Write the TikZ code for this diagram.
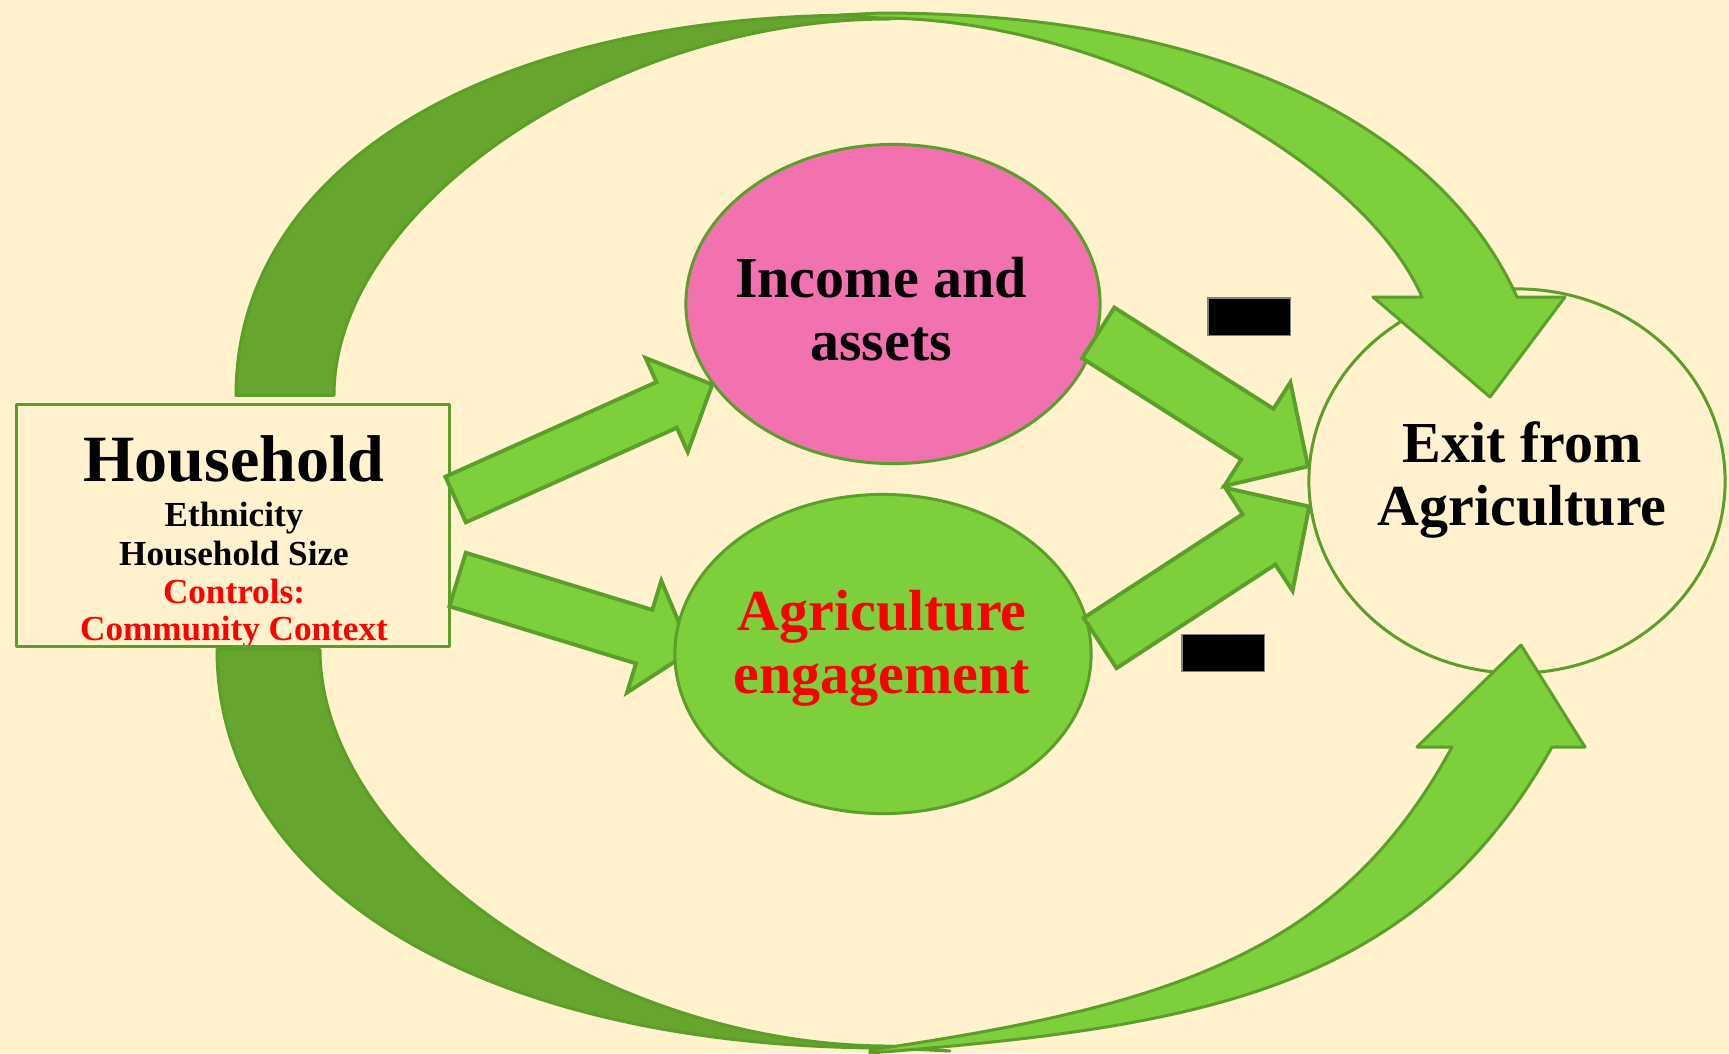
\documentclass[tikz,border=0pt]{standalone}
\usepackage{fontspec}
\setmainfont{Liberation Serif}
\usepackage{tikz}
\usepackage{xcolor}
\usetikzlibrary{shapes.geometric,calc}

\definecolor{paper}{HTML}{FFF2CC}
\definecolor{leaf}{HTML}{7DD03B}
\definecolor{moss}{HTML}{66A52E}
\definecolor{rim}{HTML}{5C9E2A}
\definecolor{rose}{HTML}{F272B0}

\tikzset{
  rim line/.style={draw=rim, line width=0.85pt, line join=round},
  fat arrow/.style={fill=leaf, draw=rim, line width=1.1pt, line join=miter},
  front band/.style={fill=leaf, rim line},
  back band/.style={fill=moss, rim line},
  factor/.style={ellipse, rim line, minimum width=4.14cm, minimum height=3.19cm, inner sep=0pt},
  bigtext/.style={font=\bfseries\fontsize{16.5}{17.9}\selectfont, align=center},
  hhline/.style={anchor=base, font=\bfseries\fontsize{10}{11}\selectfont},
  minus/.style={fill=black, draw=black!50, line width=0.3pt, minimum width=0.82cm, minimum height=0.37cm, inner sep=0pt},
}

% block arrow: #1 tail, #2 tip, #3 half shaft, #4 half head, #5 head length
\newcommand{\fatarrow}[5]{%
  \coordinate (fa-neck) at ($(#2)!#5!(#1)$);
  \filldraw[fat arrow] ($(#1)!#3!90:(#2)$) -- ($(fa-neck)!#3!90:(#2)$)
    -- ($(fa-neck)!#4!90:(#2)$) -- (#2) -- ($(fa-neck)!#4!-90:(#2)$)
    -- ($(fa-neck)!#3!-90:(#2)$) -- ($(#1)!#3!-90:(#2)$) -- cycle;}

\begin{document}
\begin{tikzpicture}[x=0.01cm, y=-0.01cm]
  \useasboundingbox (0,0) rectangle (1729,1053);
  \fill[paper] (0,0) rectangle (1729,1053);

  \node[factor, minimum width=4.16cm, minimum height=3.84cm] (exit) at (1517,481) {};

  % household box
  \node[anchor=base, font=\bfseries\fontsize{18.8}{20}\selectfont] (hh-title) at (234,481.7) {Household};
  \node[hhline] (hh-eth) at (234,526.7) {Ethnicity};
  \node[hhline] (hh-size) at (234,565) {Household Size};
  \node[hhline, text=red] (hh-ctrl) at (234,603.3) {Controls:};
  \node[hhline, text=red] (hh-comm) at (234,640) {Community Context};
  \node[rim line, minimum width=4.32cm, minimum height=2.41cm, inner sep=0pt] (hh) at (233,525.5) {};

  \coordinate (top-l) at ($(hh.north)+(3,-8)$);
  \coordinate (top-r) at ($(hh.north)+(101,-8)$);
  \coordinate (bot-l) at ($(hh.south)+(-16,2)$);
  \coordinate (bot-r) at ($(hh.south)+(87,2)$);
  \coordinate (th-bl) at ($(exit.center)+(-144,-184)$);
  \coordinate (th-nl) at ($(exit.center)+(-95,-184)$);
  \coordinate (th-nr) at ($(exit.center)+(0,-184)$);
  \coordinate (th-br) at ($(exit.center)+(48,-184)$);
  \coordinate (th-tip) at ($(exit.center)+(-27,-84)$);
  \coordinate (bh-bl) at ($(exit.center)+(-100,266)$);
  \coordinate (bh-nl) at ($(exit.center)+(-65,266)$);
  \coordinate (bh-nr) at ($(exit.center)+(35,266)$);
  \coordinate (bh-br) at ($(exit.center)+(68,266)$);
  \coordinate (bh-tip) at ($(exit.center)+(4,164)$);

  % upper curved arrow
  \filldraw[back band] (top-l) .. controls (236,168) and (487,15) .. (863,15) -- (930,14)
    -- (889,19) .. controls (611,19) and (334,208) .. (top-r) -- cycle;
  \filldraw[front band] (840,15) -- (880,13) .. controls (1230,13) and (1443,133) .. (th-nr)
    -- (th-br) -- (th-tip) -- (th-bl) -- (th-nl)
    .. controls (1362,159) and (1100,18) .. (880,18) -- cycle;

  % lower curved arrow
  \filldraw[back band] (bot-l) .. controls (217,888) and (486,1048) .. (889,1048) -- (950,1051)
    -- (889,1046) .. controls (604,1046) and (320,847) .. (bot-r) -- cycle;
  \filldraw[front band] (870,1050) .. controls (1180,1005) and (1342,949) .. (bh-nl)
    -- (bh-bl) -- (bh-tip) -- (bh-br) -- (bh-nr)
    .. controls (1415,991) and (1200,1027) .. (870,1053) -- cycle;

  \node[factor, fill=rose] (income) at (893,304) {};

  \coordinate (a1-tail) at ($(hh.east)+(5,-26)$);
  \coordinate (a2-tail) at ($(hh.east)+(7,54)$);
  \coordinate (agri-pos) at (883,654);
  \coordinate (a2-tip) at ($(agri-pos)+(-192,-3)$);

  \fatarrow{a1-tail}{income.204}{0.25cm}{0.515cm}{0.5cm}
  \fatarrow{income.352}{exit.176}{0.30cm}{0.615cm}{0.6cm}
  \fatarrow{a2-tail}{a2-tip}{0.28cm}{0.585cm}{0.49cm}

  \node[factor, fill=leaf, minimum width=4.16cm] (agri) at (agri-pos) {};
  \coordinate (a4-tail) at ($(agri.3)+(8,0)$);
  \fatarrow{a4-tail}{exit.187}{0.30cm}{0.615cm}{0.6cm}

  \node[bigtext] (income-txt) at (881,309) {Income and\\assets};
  \node[bigtext, text=red] (agri-txt) at (882,648.5) {Agriculture\\engagement};
  \node[bigtext] (exit-txt) at (1522,480) {Exit from\\Agriculture};

  \node[minus] (minus-up) at (1249,316.5) {};
  \node[minus] (minus-down) at (1223,653) {};
\end{tikzpicture}
\end{document}
